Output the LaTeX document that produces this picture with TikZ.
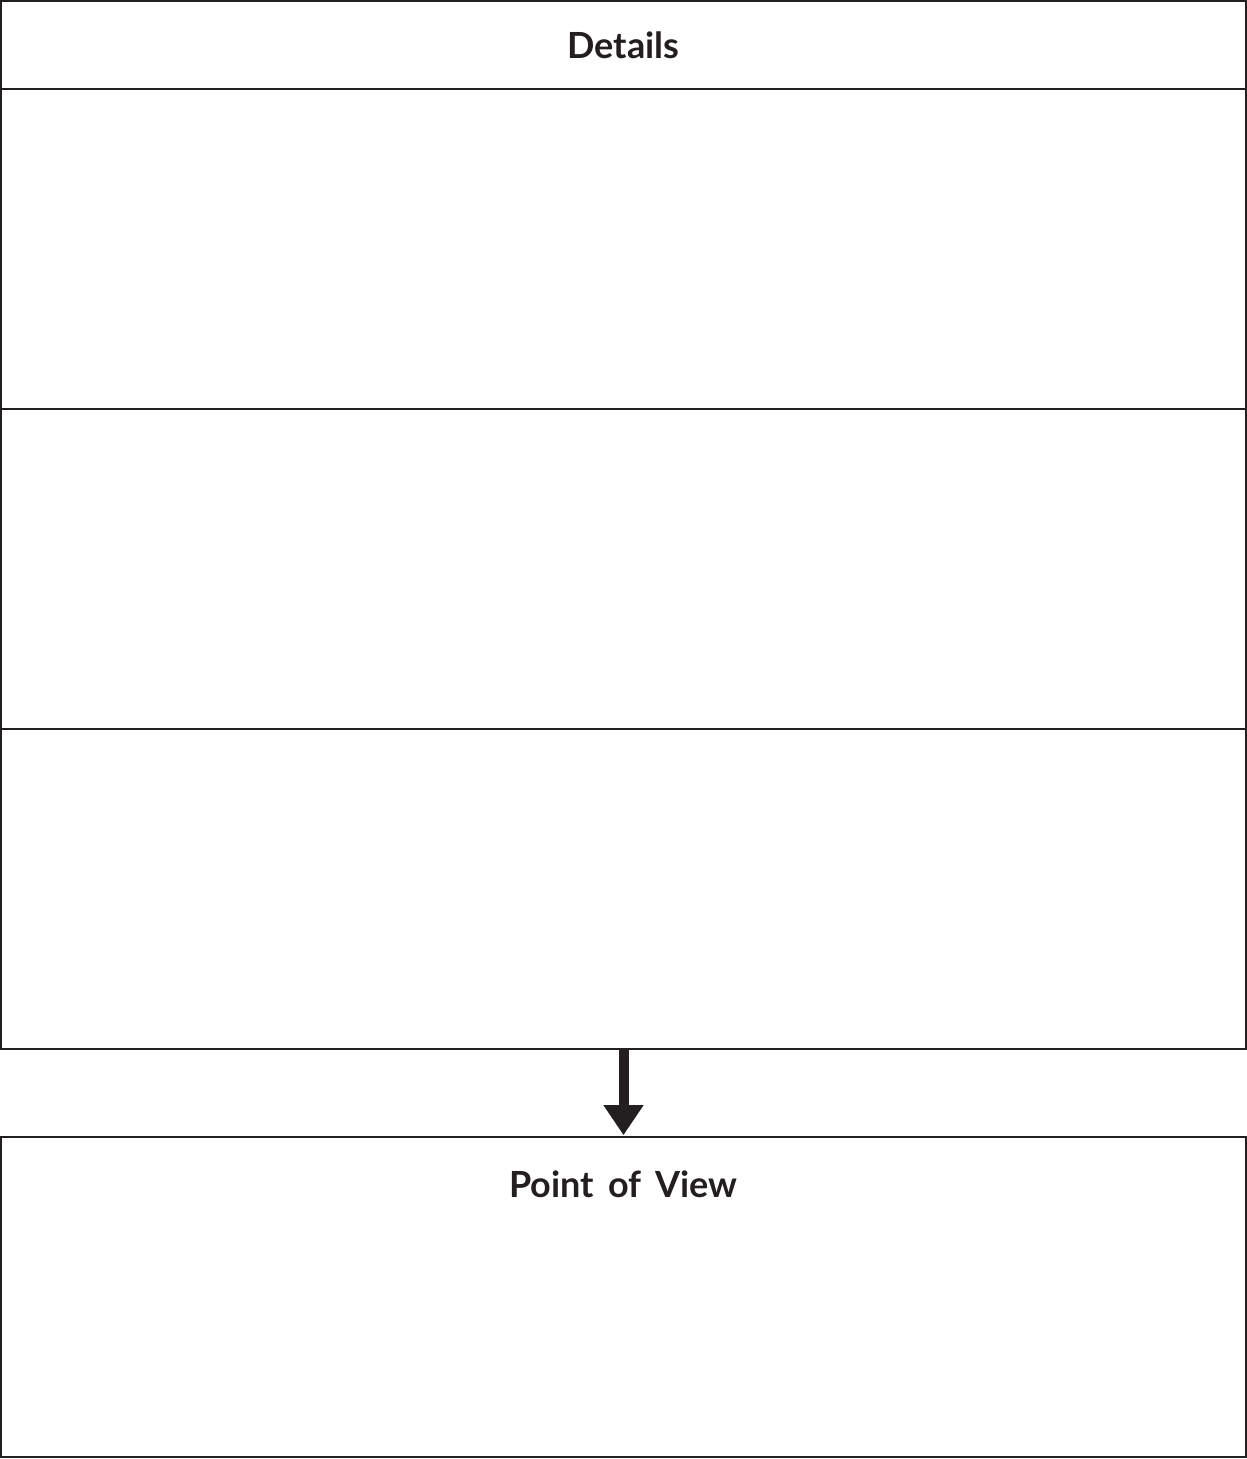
\documentclass[tikz,border=0pt]{standalone}
\usepackage{fontspec}
\setsansfont[WordSpace={1.6}]{Lato}
\usepackage{xcolor}
\usetikzlibrary{positioning, arrows.meta, calc}

\definecolor{inkgray}{HTML}{231F20}

\begin{document}
\begin{tikzpicture}[
    >={Triangle[width=0.76cm, length=0.6cm]},
    box/.style={rectangle, draw=inkgray, line width=1.5pt, minimum width=24.9cm, inner sep=0pt},
    title/.style={font=\sffamily\bfseries\fontsize{20.5}{24}\selectfont, text=inkgray}
]
    \useasboundingbox (0,0) rectangle (24.94,-29.18);

    % Details header and its three rows
    \node[box, minimum height=1.76cm] (head) at (12.47, -0.9)   {};
    \node[box, minimum height=6.4cm]  (row1) at (12.47, -4.98)  {};
    \node[box, minimum height=6.4cm]  (row2) at (12.47, -11.38) {};
    \node[box, minimum height=6.4cm]  (row3) at (12.47, -17.78) {};
    \node[title] (details) at (head.center) {Details};

    % Point of view box
    \node[box, minimum height=6.4cm] (pov) at (12.47, -25.94) {};
    \node[title] (povtitle) at (12.47, -23.68) {Point of View};

    % Arrow from details to point of view
    \draw[->, draw=inkgray, fill=inkgray, line width=0.2cm, shorten >=0.01cm] (row3.south) -- (pov.north);
\end{tikzpicture}
\end{document}
